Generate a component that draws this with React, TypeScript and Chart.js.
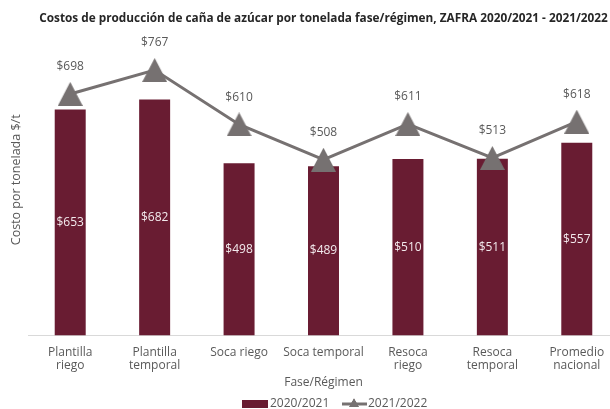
import React, { useEffect, useRef } from "react";
import { Chart, registerables } from "chart.js";

Chart.register(...registerables);

const TITLE = "Costos de producción de caña de azúcar por tonelada fase/régimen, ZAFRA 2020/2021 - 2021/2022";
const Y_TITLE = "Costo por tonelada $/t";
const X_TITLE = "Fase/Régimen";
const CATEGORIES: string[][] = [
  ["Plantilla", "riego"],
  ["Plantilla", "temporal"],
  ["Soca riego"],
  ["Soca temporal"],
  ["Resoca", "riego"],
  ["Resoca", "temporal"],
  ["Promedio", "nacional"],
];
const SERIES_NAMES = ["2020/2021", "2021/2022"];
const VALUES_2020_2021 = [653, 682, 498, 489, 510, 511, 557];
const VALUES_2021_2022 = [698, 767, 610, 508, 611, 513, 618];
const Y_MAX = 900;

const BAR_COLOR = "#691C32";
const LINE_COLOR = "#767171";
const TEXT_COLOR = "#595959";
const FONT = "'Open Sans', sans-serif";

function makeTriangle(w: number, h: number, color: string) {
  const c = document.createElement("canvas");
  c.width = w;
  c.height = h;
  const g = c.getContext("2d")!;
  g.fillStyle = color;
  g.beginPath();
  g.moveTo(w / 2, 0);
  g.lineTo(w, h);
  g.lineTo(0, h);
  g.closePath();
  g.fill();
  return c;
}

export default function App() {
  const ref = useRef<HTMLCanvasElement | null>(null);

  useEffect(() => {
    const canvas = ref.current!;
    const tri = makeTriangle(25, 24, LINE_COLOR);

    const overlay = {
      id: "overlay",
      afterDatasetsDraw(chart: any) {
        const ctx = chart.ctx;
        ctx.save();
        // bar labels
        const barMeta = chart.getDatasetMeta(1);
        ctx.font = `12px ${FONT}`;
        ctx.textAlign = "center";
        ctx.textBaseline = "middle";
        ctx.fillStyle = "#F3EAED";
        barMeta.data.forEach((el: any, i: number) => {
          ctx.fillText("$" + VALUES_2020_2021[i], el.x, (el.y + el.base) / 2);
        });
        // line labels
        const lineMeta = chart.getDatasetMeta(0);
        ctx.fillStyle = TEXT_COLOR;
        lineMeta.data.forEach((el: any, i: number) => {
          ctx.fillText("$" + VALUES_2021_2022[i], el.x, el.y - 27);
        });
        ctx.restore();
      },
      afterDraw(chart: any) {
        const ctx = chart.ctx;
        const area = chart.chartArea;
        const cx = (area.left + area.right) / 2;
        ctx.save();
        // title
        ctx.font = `bold 11.8px ${FONT}`;
        ctx.fillStyle = "#262626";
        ctx.textAlign = "center";
        ctx.textBaseline = "middle";
        ctx.fillText(TITLE, cx, 19);
        // y title (slightly clipped on the left like the reference)
        ctx.save();
        ctx.beginPath();
        ctx.rect(11, 0, 40, chart.height);
        ctx.clip();
        ctx.translate(16, (area.top + area.bottom) / 2);
        ctx.rotate(-Math.PI / 2);
        ctx.font = `12.5px ${FONT}`;
        ctx.fillStyle = TEXT_COLOR;
        ctx.fillText(Y_TITLE, 0, 0);
        ctx.restore();
        // legend
        const ly = 404;
        ctx.font = `12px ${FONT}`;
        ctx.textAlign = "left";
        ctx.fillStyle = BAR_COLOR;
        ctx.fillRect(242, ly - 4, 26, 8);
        ctx.fillStyle = TEXT_COLOR;
        ctx.fillText(SERIES_NAMES[0], 270, ly);
        ctx.strokeStyle = LINE_COLOR;
        ctx.lineWidth = 3;
        ctx.beginPath();
        ctx.moveTo(342, ly);
        ctx.lineTo(367, ly);
        ctx.stroke();
        ctx.drawImage(tri, 349, ly - 6, 10, 9);
        ctx.fillText(SERIES_NAMES[1], 368, ly);
        ctx.restore();
      },
    };

    const chart = new Chart(canvas, {
      type: "bar",
      data: {
        labels: CATEGORIES,
        datasets: [
          {
            type: "line",
            label: SERIES_NAMES[1],
            data: VALUES_2021_2022,
            borderColor: LINE_COLOR,
            backgroundColor: LINE_COLOR,
            borderWidth: 3,
            pointStyle: tri as any,
            pointRadius: 12,
            order: 0,
          } as any,
          {
            type: "bar",
            label: SERIES_NAMES[0],
            data: VALUES_2020_2021,
            backgroundColor: BAR_COLOR,
            categoryPercentage: 1,
            barPercentage: 0.367,
            order: 1,
          },
        ],
      },
      options: {
        responsive: false,
        animation: false,
        layout: { padding: { left: 28, right: 21, top: 24, bottom: 18 } },
        plugins: {
          legend: { display: false },
          title: { display: false },
          tooltip: { enabled: false },
        },
        scales: {
          y: { display: false, min: 0, max: Y_MAX },
          x: {
            grid: { display: false },
            border: { color: "#D9D9D9", width: 1 },
            ticks: {
              color: TEXT_COLOR,
              font: { family: FONT, size: 12, lineHeight: 1.1 },
              padding: 2,
              maxRotation: 0,
              autoSkip: false,
            },
            title: {
              display: true,
              text: X_TITLE,
              color: TEXT_COLOR,
              font: { family: FONT, size: 12, lineHeight: 1.0 },
              padding: { top: 3, bottom: 2 },
            },
          },
        },
      },
      plugins: [overlay],
    });
    return () => chart.destroy();
  }, []);

  return (
    <div
      style={{
        position: "fixed",
        left: 0,
        top: 0,
        width: 610,
        height: 409,
        overflow: "hidden",
        background: "#fff",
      }}
    >
      <canvas ref={ref} width={640} height={409} style={{ width: 640, height: 409, display: "block" }} />
    </div>
  );
}
